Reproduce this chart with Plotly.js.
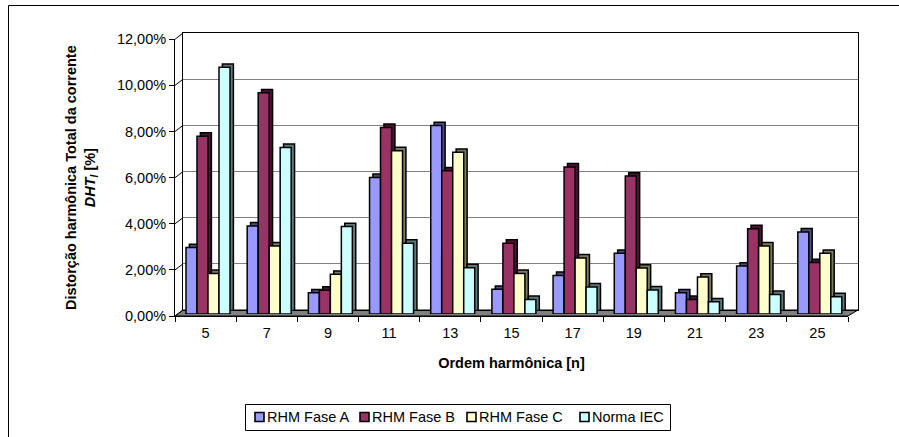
<!DOCTYPE html>
<html>
<head>
<meta charset="utf-8">
<script src="https://cdn.plot.ly/plotly-3.0.1.min.js"></script>
<style>html,body{margin:0;padding:0;background:#fff;}#chart{width:899px;height:437px;}</style>
</head>
<body>
<div id="chart"></div>
<script>
// ---- data ----
const categories = ['5','7','9','11','13','15','17','19','21','23','25'];
const faseA    = [2.88, 3.82, 0.92, 5.92, 8.17, 1.07, 1.67, 2.63, 0.92, 2.08, 3.56];
const faseB    = [7.71, 9.59, 1.03, 8.09, 6.21, 3.07, 6.38, 5.98, 0.63, 3.70, 2.23];
const faseC    = [1.76, 2.95, 1.72, 7.08, 7.01, 1.76, 2.43, 1.99, 1.60, 2.95, 2.63];
const normaIEC = [10.70, 7.22, 3.79, 3.07, 2.01, 0.63, 1.17, 1.04, 0.53, 0.85, 0.75];
const seriesNames = ['RHM Fase A', 'RHM Fase B', 'RHM Fase C', 'Norma IEC'];
const yTickValues = [0, 2, 4, 6, 8, 10, 12];

// ---- styles ----
const seriesValues = [faseA, faseB, faseC, normaIEC];
const faceColors = ['#9999FF', '#993366', '#FFFFCC', '#CCFFFF'];
const sideColors = ['#4d4d80', '#4a1530', '#7a7a62', '#5f7a7a'];
const FONT = 'Liberation Sans, Arial, sans-serif';
const FS = 14.5;

// plot-area frame in pixels
const L = 175, R = 859, T = 33, B = 316;
const W = R - L, H = B - T;
const px = v => (v - L) / W;
const py = v => (B - v) / H;

const dom = {
  back:   {x: [px(183), px(858)],     y: [py(310), py(33)]},
  shadow: {x: [px(180.8), px(853.8)], y: [py(310.6), py(33.9)]},
  main:   {x: [px(177.4), px(850.4)], y: [py(314), py(37.3)]},
  front:  {x: [0, px(848)],           y: [0, py(39.3)]}
};

const traces = [];
// back wall subplot (holds gridlines)
traces.push({type: 'scatter', mode: 'none', x: categories, y: categories.map(() => 0),
  xaxis: 'x', yaxis: 'y', showlegend: false, hoverinfo: 'skip'});
// shadow (3-D depth) bars
seriesValues.forEach((vals, i) => {
  traces.push({type: 'bar', x: categories, y: vals, name: seriesNames[i],
    xaxis: 'x2', yaxis: 'y2', showlegend: false, hoverinfo: 'skip',
    marker: {color: sideColors[i], line: {color: '#000', width: 1.5}}});
});
// front faces
seriesValues.forEach((vals, i) => {
  traces.push({type: 'bar', x: categories, y: vals, name: seriesNames[i],
    xaxis: 'x3', yaxis: 'y3', showlegend: false,
    marker: {color: faceColors[i], line: {color: '#000', width: 1.5}}});
});
// front axes subplot
traces.push({type: 'scatter', mode: 'none', x: categories, y: categories.map(() => 0),
  xaxis: 'x4', yaxis: 'y4', showlegend: false, hoverinfo: 'skip'});

const catRange = [-0.5, categories.length - 0.5];
const hiddenX = d => ({domain: d, type: 'category', categoryarray: categories, range: catRange,
  visible: false, fixedrange: true});
const hiddenY = d => ({domain: d, range: [0, 12], visible: false, fixedrange: true});

const shapes = [];
// outer chart border
shapes.push({type: 'rect', xref: 'paper', yref: 'paper', layer: 'below',
  x0: px(8.5), x1: px(905), y0: py(5.5), y1: py(445),
  line: {color: '#000', width: 1}, fillcolor: 'rgba(0,0,0,0)'});
// floor
shapes.push({type: 'path', xref: 'paper', yref: 'paper', layer: 'below',
  path: `M${px(175)},${py(316)} L${px(848)},${py(316)} L${px(858)},${py(310)} L${px(183)},${py(310)} Z`,
  fillcolor: '#808080', line: {color: '#000', width: 1}});
// side-wall connectors at each y tick
const yFront = v => dom.front.y[0] + v / 12 * (dom.front.y[1] - dom.front.y[0]);
const yBack = v => dom.back.y[0] + v / 12 * (dom.back.y[1] - dom.back.y[0]);
yTickValues.forEach(v => {
  shapes.push({type: 'line', xref: 'paper', yref: 'paper', layer: 'above',
    x0: dom.front.x[0], y0: yFront(v), x1: dom.back.x[0], y1: yBack(v),
    line: {color: '#000', width: 1}});
});
// legend box
shapes.push({type: 'rect', xref: 'paper', yref: 'paper',
  x0: px(245.5), x1: px(670.5), y0: py(404.5), y1: py(430.5),
  line: {color: '#000', width: 1}, fillcolor: '#fff'});
const legendSymbolX = [255, 360, 467, 580];
const annotations = [];
seriesNames.forEach((nm, i) => {
  const sx = legendSymbolX[i];
  shapes.push({type: 'rect', xref: 'paper', yref: 'paper',
    x0: px(sx), x1: px(sx + 9), y0: py(412.5), y1: py(421.5),
    line: {color: '#000', width: 1.6}, fillcolor: faceColors[i]});
  annotations.push({xref: 'paper', yref: 'paper', x: px(sx + 11), y: py(417.5),
    xanchor: 'left', yanchor: 'middle', showarrow: false, borderpad: 0, text: nm,
    font: {family: FONT, size: FS, color: '#000'}});
});

const layout = {
  width: 899, height: 437,
  margin: {l: L, r: 899 - R, t: T, b: 437 - B, pad: 0},
  paper_bgcolor: '#fff', plot_bgcolor: 'rgba(0,0,0,0)',
  font: {family: FONT, size: FS, color: '#000'},
  separators: ',.',
  showlegend: false,
  barmode: 'group', bargap: 0.281, bargroupgap: 0,
  xaxis: {domain: dom.back.x, anchor: 'y', type: 'category', categoryarray: categories, range: catRange,
    showline: true, mirror: true, linecolor: '#000', linewidth: 1,
    showticklabels: false, ticks: '', showgrid: false, zeroline: false, fixedrange: true},
  yaxis: {domain: dom.back.y, anchor: 'x', range: [0, 12], tick0: 0, dtick: 2,
    showgrid: true, gridcolor: '#808080', gridwidth: 1,
    showline: true, mirror: true, linecolor: '#000', linewidth: 1,
    showticklabels: false, ticks: '', zeroline: false, fixedrange: true},
  xaxis2: Object.assign(hiddenX(dom.shadow.x), {anchor: 'y2'}),
  yaxis2: Object.assign(hiddenY(dom.shadow.y), {anchor: 'x2'}),
  xaxis3: Object.assign(hiddenX(dom.main.x), {anchor: 'y3'}),
  yaxis3: Object.assign(hiddenY(dom.main.y), {anchor: 'x3'}),
  xaxis4: {domain: dom.front.x, anchor: 'y4', type: 'category', categoryarray: categories, range: catRange,
    showline: true, linecolor: '#000', linewidth: 1,
    ticks: 'outside', ticklen: 5, tickcolor: '#000', tickwidth: 1, tickson: 'boundaries',
    ticklabelstandoff: 4,
    tickfont: {family: FONT, size: FS, color: '#000'},
    showgrid: false, zeroline: false, fixedrange: true,
    title: {text: '<b>Ordem harmônica [n]</b>', font: {family: FONT, size: FS, color: '#000'}, standoff: 17}},
  yaxis4: {domain: dom.front.y, anchor: 'x4', range: [0, 12], tick0: 0, dtick: 2,
    tickformat: '.2f', ticksuffix: '%',
    showline: true, linecolor: '#000', linewidth: 1,
    ticks: 'outside', ticklen: 5, tickcolor: '#000', tickwidth: 1,
    tickfont: {family: FONT, size: FS, color: '#000'},
    showgrid: false, zeroline: false, fixedrange: true,
    title: {text: '<b>Distorção harmônica Total da corrente</b><br><b><i>DHT<sub>I</sub></i> [%]</b>',
      font: {family: FONT, size: FS, color: '#000'}, standoff: 17}},
  shapes: shapes,
  annotations: annotations
};

Plotly.newPlot('chart', traces, layout, {staticPlot: true, displayModeBar: false});
</script>
</body>
</html>
